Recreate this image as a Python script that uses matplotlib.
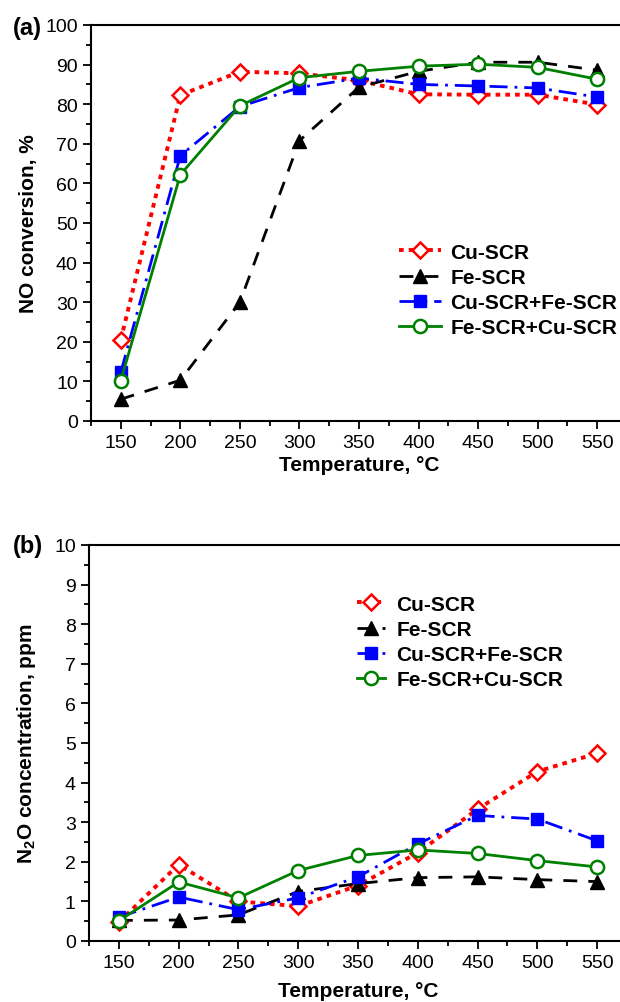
import matplotlib
matplotlib.use("Agg")
import matplotlib.pyplot as plt
from matplotlib.ticker import MultipleLocator

plt.rcParams['font.family'] = ['Liberation Sans', 'DejaVu Sans']
plt.rcParams['mathtext.fontset'] = 'custom'
plt.rcParams['mathtext.rm'] = 'Liberation Sans'
plt.rcParams['mathtext.bf'] = 'Liberation Sans:bold'

temperatura = [150, 200, 250, 300, 350, 400, 450, 500, 550]
series = ["Cu-SCR", "Fe-SCR", "Cu-SCR+Fe-SCR", "Fe-SCR+Cu-SCR"]

# (a) conversion de NO, %
no_cu = [20.5, 82.3, 88.2, 87.8, 86.0, 82.5, 82.4, 82.4, 79.9]
no_fe = [5.5, 10.3, 30.0, 70.8, 84.3, 88.3, 90.6, 90.6, 88.6]
no_cufe = [12.3, 67.0, 79.4, 84.2, 86.6, 85.0, 84.6, 84.1, 81.8]
no_fecu = [10.2, 62.2, 79.6, 86.7, 88.3, 89.6, 90.1, 89.3, 86.3]

# (b) concentracion de N2O, ppm
n2o_cu = [0.48, 1.93, 1.0, 0.88, 1.40, 2.23, 3.33, 4.28, 4.74]
n2o_fe = [0.52, 0.53, 0.66, 1.25, 1.45, 1.60, 1.62, 1.55, 1.50]
n2o_cufe = [0.60, 1.11, 0.79, 1.09, 1.62, 2.45, 3.17, 3.08, 2.53]
n2o_fecu = [0.51, 1.49, 1.09, 1.78, 2.16, 2.30, 2.21, 2.03, 1.87]

estilos = [
    dict(color="red", ls=(0, (1.2, 1.3)), lw=2.8, marker="D", ms=8.5, mfc="white", mec="red", mew=1.8),
    dict(color="black", ls=(0, (5, 4)), lw=2.0, marker="^", ms=10, mfc="black", mec="black"),
    dict(color="blue", ls=(0, (6.5, 2.5, 1, 2.5)), lw=2.0, marker="s", ms=8, mfc="blue", mec="blue"),
    dict(color="green", ls="-", lw=2.0, marker="o", ms=9.5, mfc="white", mec="green", mew=1.8),
]

fig = plt.figure(figsize=(6.2, 10.03), dpi=100)
H = 1003.0
W = 620.0
ax1 = fig.add_axes([91 / W, 1 - 422 / H, 536 / W, 396 / H])
ax2 = fig.add_axes([89 / W, 1 - 942 / H, 538 / W, 396 / H])


def formato(ax, ymax, ymajor, yminor):
    ax.set_xlim(125, 575)
    ax.set_ylim(0, ymax)
    ax.xaxis.set_major_locator(MultipleLocator(50))
    ax.xaxis.set_minor_locator(MultipleLocator(25))
    ax.yaxis.set_major_locator(MultipleLocator(ymajor))
    ax.yaxis.set_minor_locator(MultipleLocator(yminor))
    ax.tick_params(which="both", direction="out", labelsize=14, width=1.3)
    ax.tick_params(which="major", length=6)
    ax.tick_params(which="minor", length=3.5)
    for s in ax.spines.values():
        s.set_linewidth(1.5)
    ax.set_xlabel("Temperature, °C", fontsize=15, fontweight="bold")


datos_a = [no_cu, no_fe, no_cufe, no_fecu]
datos_b = [n2o_cu, n2o_fe, n2o_cufe, n2o_fecu]

for nombre, y, est in zip(series, datos_a, estilos):
    ax1.plot(temperatura, y, label=nombre, **est)
for nombre, y, est in zip(series, datos_b, estilos):
    ax2.plot(temperatura, y, label=nombre, **est)

formato(ax1, 100, 10, 5)
formato(ax2, 10, 1, 0.5)
ax1.set_ylabel("NO conversion, %", fontsize=15, fontweight="bold")
ax2.set_ylabel("N$_{\\mathbf{2}}$O concentration, ppm", fontsize=15, fontweight="bold")
ax1.yaxis.set_label_coords(-0.098, 0.5)
ax2.yaxis.set_label_coords(-0.094, 0.5)
ax1.xaxis.set_label_coords(0.5, -0.085)
ax2.xaxis.set_label_coords(0.5, -0.100)

ax1.legend(loc="center left", bbox_to_anchor=(0.575, 0.331), frameon=False,
           prop=dict(size=15, weight="bold"), handlelength=2.0, handletextpad=0.45,
           labelspacing=0.3, borderpad=0, borderaxespad=0)
ax2.legend(loc="center left", bbox_to_anchor=(0.498, 0.755), frameon=False,
           prop=dict(size=15, weight="bold"), handlelength=1.35, handletextpad=0.55,
           labelspacing=0.3, borderpad=0, borderaxespad=0)

fig.text(27 / W, 1 - 28 / H, "(a)", fontsize=17, fontweight="bold", ha="center", va="center")
fig.text(28 / W, 1 - 547 / H, "(b)", fontsize=17, fontweight="bold", ha="center", va="center")

plt.savefig("out.png", dpi=100)
plt.close()
